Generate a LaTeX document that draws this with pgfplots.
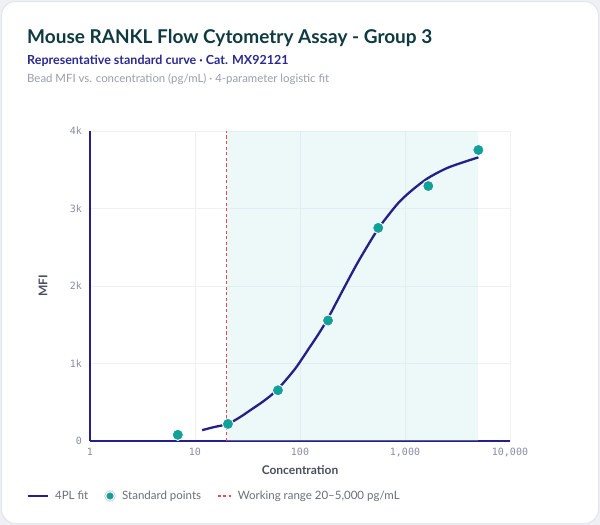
\documentclass[border=0pt]{standalone}
\usepackage{pgfplots}
\pgfplotsset{compat=1.18}
\usepackage{fontspec}
\setmainfont{Lato}
\setmonofont{DejaVu Sans Mono}

\definecolor{pagebg}{HTML}{EEF0F4}
\definecolor{cardedge}{HTML}{E3E6EC}
\definecolor{titlecol}{HTML}{0F3A40}
\definecolor{subcol}{HTML}{2B2A8F}
\definecolor{capcol}{HTML}{9A9EA8}
\definecolor{curvecol}{HTML}{261F8A}
\definecolor{tealcol}{HTML}{12A09A}
\definecolor{shadecol}{HTML}{C6E8EE}
\definecolor{redcol}{HTML}{E5484D}
\definecolor{gridcol}{HTML}{EEF0F4}
\definecolor{tickcol}{HTML}{8A8DA0}
\definecolor{labcol}{HTML}{4A4F5C}
\definecolor{legcol}{HTML}{6B6F7A}
\definecolor{ringcol}{HTML}{C9CDD5}

\begin{document}
\begin{tikzpicture}
\fill[pagebg] (0pt,0pt) rectangle (600pt,-525pt);
\filldraw[fill=white, draw=cardedge, line width=1pt, rounded corners=14pt] (1.5pt,-1.5pt) rectangle (598.5pt,-523.5pt);

\node[anchor=base west, inner sep=0, text=titlecol, font=\fontsize{19}{22}\selectfont\bfseries]
  at (27pt,-43pt) {Mouse RANKL Flow Cytometry Assay - Group 3};
\node[anchor=base west, inner sep=0, text=subcol, font=\fontsize{12.5}{15}\selectfont\bfseries]
  at (27pt,-64pt) {Representative standard curve · Cat. MX92121};
\node[anchor=base west, inner sep=0, text=capcol, font=\fontsize{11.4}{13}\selectfont]
  at (27pt,-82pt) {Bead MFI vs. concentration (pg/mL) · 4-parameter logistic fit};

\begin{axis}[
  at={(90pt,-441pt)}, anchor=south west,
  scale only axis, width=420pt, height=310pt,
  xmode=log, log basis x=10,
  xmin=1, xmax=10000, ymin=0, ymax=4000,
  xtick={1,10,100,1000,10000},
  xticklabels={1,10,100,{1,000},{10,000}},
  ytick={0,1000,2000,3000,4000},
  yticklabels={0,1k,2k,3k,4k},
  xminorticks=false,
  tick style={draw=none},
  grid=major,
  major grid style={gridcol, line width=0.8pt},
  axis x line*=bottom, axis y line*=left,
  axis line style={curvecol, line width=1.6pt, -},
  xticklabel style={font=\fontsize{10}{12}\selectfont\ttfamily, text=tickcol, yshift=-4pt},
  yticklabel style={font=\fontsize{10}{12}\selectfont\ttfamily, text=tickcol, xshift=-4.5pt},
  xlabel={Concentration},
  ylabel={MFI},
  xlabel style={font=\fontsize{12}{14}\selectfont\bfseries, text=labcol,
    at={(axis description cs:0.5,-0.095)}, anchor=center},
  ylabel style={font=\fontsize{12}{14}\selectfont\bfseries, text=labcol,
    at={(axis description cs:-0.112,0.5)}, anchor=center},
  legend columns=-1,
  legend style={at={(axis description cs:-0.152,-0.1774)}, anchor=west,
    draw=none, fill=none, inner sep=0pt,
    font=\fontsize{11.5}{14}\selectfont, text=legcol,
    nodes={inner sep=0pt, anchor=west},
    /tikz/every odd column/.append style={column sep=6.5pt},
    /tikz/every even column/.append style={column sep=16pt}},
]
% working range shading (translucent so the grid shows through)
\addplot[draw=none, fill=shadecol, fill opacity=0.3, forget plot]
  coordinates {(20,0) (5000,0) (5000,4000) (20,4000)} -- cycle;
% working range lower bound
\addplot[redcol, line width=0.9pt, dash pattern=on 3.2pt off 2.4pt, forget plot]
  coordinates {(20,0) (20,4000)};
% 4PL fit
\addplot[curvecol, line width=2.3pt, smooth, forget plot] coordinates {
  (11.7,140) (15,178) (20.6,222) (27,310) (34.7,410) (45,515) (60,655)
  (89.6,930) (124,1212) (150,1380) (185,1585) (259,1960) (347,2280)
  (450,2540) (556,2740) (700,2920) (896,3095) (1200,3250) (1667,3395)
  (2495,3520) (3590,3597) (5000,3660)};
% standard points
\addplot[only marks, mark=*, mark size=5.6pt,
  mark options={fill=tealcol, draw=white, line width=0.9pt}, forget plot] coordinates {
  (6.86,80) (20.6,220) (61.7,655) (185,1555) (556,2750) (1667,3290) (5000,3755)};

\addlegendimage{legend image code/.code={
  \draw[curvecol, line width=2.3pt] (0pt,0pt) -- (20pt,0pt);}}
\addlegendentry{4PL fit}
\addlegendimage{legend image code/.code={
  \draw[ringcol, line width=0.8pt, fill=white] (5.7pt,0pt) circle (5.3pt);
  \fill[tealcol] (5.7pt,0pt) circle (3.3pt);}}
\addlegendentry{Standard points}
\addlegendimage{legend image code/.code={
  \draw[redcol, line width=1.2pt, dash pattern=on 3.2pt off 2.4pt] (0pt,0pt) -- (13pt,0pt);}}
\addlegendentry{Working range 20–5,000 pg/mL}
\end{axis}
\end{tikzpicture}
\end{document}
